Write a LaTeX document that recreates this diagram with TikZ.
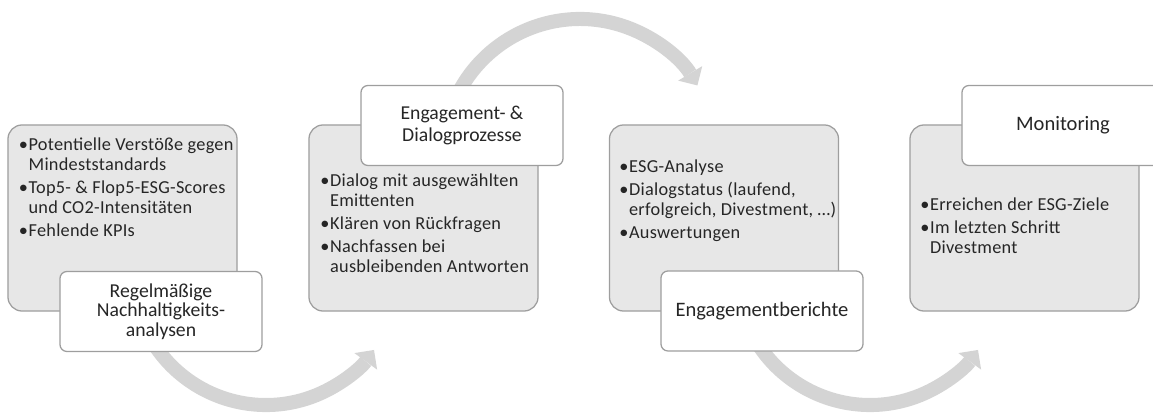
\documentclass[tikz,border=0pt]{standalone}
\usepackage{fontspec}
\setmainfont{Carlito}
\usetikzlibrary{arrows.meta}

\definecolor{boxgray}{HTML}{E7E7E7}
\definecolor{linegray}{HTML}{9E9E9E}
\definecolor{flowgray}{HTML}{D4D4D4}
\definecolor{txtgray}{HTML}{262626}

\begin{document}
\begin{tikzpicture}[x=0.025cm, y=0.025cm]
	\tikzstyle{bx}=[draw=linegray, fill=boxgray, line width=0.9pt, rounded corners=10pt, minimum width=5.725cm, minimum height=4.65cm]
	\tikzstyle{ttl}=[draw=linegray, fill=white, line width=0.9pt, rounded corners=5pt, minimum width=5.05cm, minimum height=2cm, align=center, text=txtgray, font=\fontsize{14.6}{16.5}\selectfont]
	\tikzstyle{lst}=[anchor=north west, inner sep=0pt, text=txtgray, font=\fontsize{13}{14.3}\selectfont\addfontfeature{LetterSpace=1.5}]
	\tikzstyle{flow}=[draw=flowgray, line width=10pt, -{Triangle[length=10pt, width=20pt, line width=0pt]}]
	\useasboundingbox (0,0) rectangle (1153,414);
	% arc centres
	\coordinate (c1) at (266,142.5);
	\coordinate (c2) at (580,258);
	\coordinate (c3) at (870,142.5);
	\draw[flow] ([shift={(205:133.5)}]c1) arc[start angle=205, end angle=324, radius=133.5];
	\draw[flow] ([shift={(160:137)}]c2) arc[start angle=160, end angle=31, radius=137];
	\draw[flow] ([shift={(205:133.5)}]c3) arc[start angle=205, end angle=324, radius=133.5];
	% grey boxes
	\node (b1) [bx] at (122.5,196) {};
	\node (b2) [bx] at (423.5,196) {};
	\node (b3) [bx] at (724,196) {};
	\node (b4) [bx] at (1024.5,196) {};
	% lists
	\node (l1) [lst] at (18.5,278) {\begin{tabular}{@{}p{7pt}@{}l@{}}
		\textbullet & Potentielle Verstöße gegen\\ & Mindeststandards\\[2pt]
		\textbullet & Top5- \& Flop5-ESG-Scores\\ & und CO2-Intensitäten\\[2pt]
		\textbullet & Fehlende KPIs
	\end{tabular}};
	\node (l2) [lst] at (320,242) {\begin{tabular}{@{}p{7pt}@{}l@{}}
		\textbullet & Dialog mit ausgewählten\\ & Emittenten\\[2pt]
		\textbullet & Klären von Rückfragen\\[2pt]
		\textbullet & Nachfassen bei\\ & ausbleibenden Antworten
	\end{tabular}};
	\node (l3) [lst] at (619,256) {\begin{tabular}{@{}p{7pt}@{}l@{}}
		\textbullet & ESG-Analyse\\[2pt]
		\textbullet & Dialogstatus (laufend,\\ & erfolgreich, Divestment, …)\\[2pt]
		\textbullet & Auswertungen
	\end{tabular}};
	\node (l4) [lst] at (920,218) {\begin{tabular}{@{}p{7pt}@{}l@{}}
		\textbullet & Erreichen der ESG-Ziele\\[2pt]
		\textbullet & Im letzten Schritt\\ & Divestment
	\end{tabular}};
	% title boxes
	\node (t1) [ttl, font=\fontsize{14}{14}\selectfont] at (161,102.5) {Regelmäßige\\Nachhaltigkeits-\\analysen};
	\node (t2) [ttl, font=\fontsize{14}{15.5}\selectfont] at (462,288.5) {Engagement- \&\\Dialogprozesse};
	\node (t3) [ttl] at (762,103) {Engagementberichte};
	\node (t4) [ttl] at (1063,288.5) {Monitoring};
\end{tikzpicture}
\end{document}
